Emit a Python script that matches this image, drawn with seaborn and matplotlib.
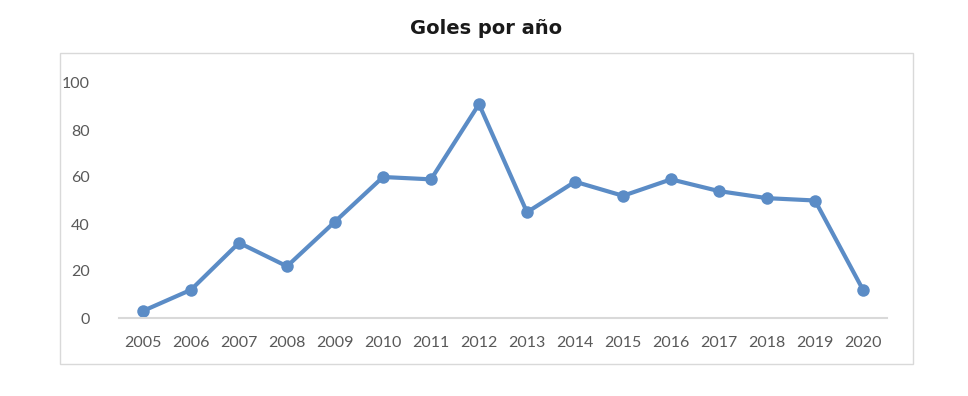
import matplotlib
matplotlib.use("Agg")
import matplotlib.pyplot as plt
import seaborn as sns
import pandas as pd
from matplotlib.patches import Rectangle

years = ["2005", "2006", "2007", "2008", "2009", "2010", "2011", "2012",
         "2013", "2014", "2015", "2016", "2017", "2018", "2019", "2020"]
goals = [3, 12, 32, 22, 41, 60, 59, 91, 45, 58, 52, 59, 54, 51, 50, 12]
y_ticks = [0, 20, 40, 60, 80, 100]

df = pd.DataFrame({"year": years, "goles": goals})

sns.set_style("white")
plt.rcParams['font.family'] = ['Lato', 'DejaVu Sans']

fig = plt.figure(figsize=(9.68, 3.96), dpi=100)

# outer chart frame
fig.patches.append(Rectangle((60 / 968, 1 - 364 / 396), 853 / 968, 311 / 396,
                             transform=fig.transFigure, fill=False,
                             edgecolor="#d9d9d9", linewidth=1))

ax = fig.add_axes([119 / 968, 1 - 318 / 396, 768 / 968, 235 / 396])
sns.lineplot(data=df, x="year", y="goles", ax=ax, color="#5b8cc6",
             linewidth=3, marker="o", markersize=9, markeredgewidth=0,
             sort=False)

ax.set_xlim(-0.5, len(years) - 0.5)
ax.set_ylim(0, 100)
ax.set_yticks(y_ticks)
ax.set(xlabel=None, ylabel=None)
for s in ["top", "right", "left"]:
    ax.spines[s].set_visible(False)
ax.spines["bottom"].set_color("#d9d9d9")
ax.spines["bottom"].set_linewidth(1.5)
ax.tick_params(axis="both", length=0, colors="#595959", labelsize=11.5)
ax.tick_params(axis="x", pad=13)
ax.tick_params(axis="y", pad=21)
ax.patch.set_alpha(0)

fig.text(486 / 968, 1 - 28 / 396, "Goles por año", ha="center", va="center",
         fontsize=14, fontweight="bold", color="#1a1a1a",
         family=["DejaVu Sans"])

fig.savefig("out.png", dpi=100)
